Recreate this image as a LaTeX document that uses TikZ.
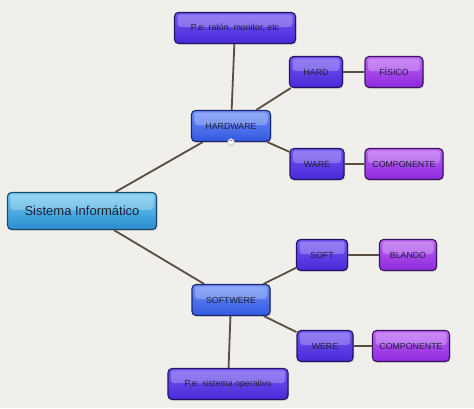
\documentclass[tikz,border=0pt]{standalone}
\usepackage{fontspec}
\setmainfont{Liberation Sans}
\usepackage{tikz}
\usetikzlibrary{shadows}

\definecolor{paper}{HTML}{F1EFEC}
\definecolor{wire}{HTML}{5A4E40}
\definecolor{inkdark}{HTML}{1E2038}

\begin{document}
\begin{tikzpicture}[x=1pt,y=-1pt,
  box/.style={rounded corners=4pt, line width=1.1pt, minimum height=31pt,
    inner sep=2pt, font=\fontsize{8.8}{10}\selectfont, text=inkdark,
    drop shadow={opacity=0.3, shadow xshift=1pt, shadow yshift=-1.2pt},
    path picture={\fill[white, opacity=0.25, rounded corners=3pt]
      ([xshift=3pt,yshift=-2pt]path picture bounding box.north west) rectangle
      ([xshift=-3pt,yshift=1pt]path picture bounding box.east);}},
  root/.style={box, draw=rootEdge, top color=rootTop, bottom color=rootBot,
    minimum height=37pt, font=\fontsize{13}{15}\selectfont},
  mid/.style={box, draw=midEdge, top color=midTop, bottom color=midBot},
  leaf/.style={box, draw=leafEdge, top color=leafTop, bottom color=leafBot},
  term/.style={box, draw=termEdge, top color=termTop, bottom color=termBot},
  link/.style={draw=wire, line width=1.8pt}]
  \definecolor{rootEdge}{HTML}{1C4A6E}
  \definecolor{rootTop}{HTML}{72CCF2}
  \definecolor{rootBot}{HTML}{2A8CD0}
  \definecolor{midTop}{HTML}{6E90F8}
  \definecolor{midBot}{HTML}{3358E0}
  \definecolor{midEdge}{HTML}{1A2670}
  \definecolor{leafTop}{HTML}{7456F2}
  \definecolor{leafBot}{HTML}{4A28D8}
  \definecolor{leafEdge}{HTML}{1E1660}
  \definecolor{termTop}{HTML}{BC66F2}
  \definecolor{termBot}{HTML}{8E28DE}
  \definecolor{termEdge}{HTML}{3A165E}

  \fill[paper] (0,0) rectangle (474,408);
  \useasboundingbox (0,0) rectangle (474,408);

  \node[root, minimum width=149pt] (sis) at (82,211) {Sistema Informático};
  \node[mid, minimum width=79pt] (hw) at (231,126) {HARDWARE};
  \node[mid, minimum width=78pt] (sw) at (231,300) {SOFTWERE};
  \node[leaf, minimum width=121pt] (raton) at (235,28) {P.e: ratón, monitor, etc};
  \node[leaf, minimum width=53pt] (hard) at (316,72) {HARD};
  \node[leaf, minimum width=54pt] (ware) at (317,164) {WARE};
  \node[leaf, minimum width=51pt] (soft) at (322,255) {SOFT};
  \node[leaf, minimum width=56pt] (were) at (325,346) {WERE};
  \node[leaf, minimum width=120pt] (so) at (228,384) {P.e: sistema operativo};
  \node[term, minimum width=58pt] (fis) at (394,72) {FÍSICO};
  \node[term, minimum width=78pt] (comp1) at (404,164) {COMPONENTE};
  \node[term, minimum width=57pt] (blando) at (408,255) {BLANDO};
  \node[term, minimum width=77pt] (comp2) at (411,346) {COMPONENTE};

  \draw[link] (sis) -- (hw);
  \draw[link] (sis) -- (sw);
  \draw[link] (hw) -- (raton);
  \draw[link] (hw) -- (hard);
  \draw[link] (hw) -- (ware);
  \draw[link] (hard) -- (fis);
  \draw[link] (ware) -- (comp1);
  \draw[link] (sw) -- (soft);
  \draw[link] (sw) -- (were);
  \draw[link] (sw) -- (so);
  \draw[link] (soft) -- (blando);
  \draw[link] (were) -- (comp2);

  \node[circle, draw=gray!70, fill=white!92!gray, inner sep=0pt, minimum size=7pt,
    font=\fontsize{6}{6}\selectfont] (fold) at (hw.south) {--};
\end{tikzpicture}
\end{document}
